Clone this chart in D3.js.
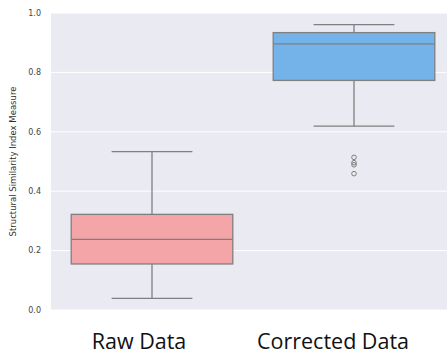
<!DOCTYPE html>
<html lang="en">
<head>
<meta charset="utf-8">
<script src="https://cdn.jsdelivr.net/npm/d3@7"></script>
<style>
  body { margin: 0; background: white; }
  svg { font-family: 'DejaVu Sans'; display: block; }
  .grid line { stroke: white; stroke-width: 1px; }
  .xlab { font-family: 'Open Sans'; }
</style>
</head>
<body>
<svg width="447" height="354"></svg>
<script>
// five-number summaries
var groups = ["Raw Data", "Corrected Data"];
var whiskerLow = [0.039, 0.619];
var q1 = [0.155, 0.773];
var median = [0.238, 0.896];
var q3 = [0.322, 0.934];
var whiskerHigh = [0.533, 0.961];
var outliers = [[], [0.514, 0.496, 0.489, 0.459]];
var fills = ["#f3a5a8", "#74b2ea"];
var yTicks = [0.0, 0.2, 0.4, 0.6, 0.8, 1.0];

var svg = d3.select("svg");
var margin = {left: 51, top: 13, right: -8, bottom: 44};
var width = +svg.attr("width") - margin.left - margin.right,
    height = +svg.attr("height") - margin.top - margin.bottom;

var g = svg.append("g").attr("transform", "translate(" + margin.left + "," + margin.top + ")");

var x = d3.scaleBand().domain(groups).range([0, width]).paddingInner(0).paddingOuter(0);
var y = d3.scaleLinear().domain([0, 1]).range([height, 0]);

g.append("rect")
  .attr("width", width).attr("height", height)
  .attr("fill", "#eaeaf2");

g.append("g").attr("class", "grid")
  .selectAll("line").data(yTicks).enter().append("line")
  .attr("x1", 0).attr("x2", width)
  .attr("y1", d => y(d)).attr("y2", d => y(d));

// y axis labels
g.append("g").selectAll("text").data(yTicks).enter().append("text")
  .attr("x", -10).attr("y", d => y(d))
  .attr("dy", "0.35em")
  .attr("text-anchor", "end")
  .attr("font-size", "8px")
  .attr("fill", "#444")
  .text(d => d3.format(".1f")(d));

svg.append("text")
  .attr("transform", "translate(16," + (margin.top + height / 2) + ") rotate(-90)")
  .attr("text-anchor", "middle")
  .attr("font-size", "8.5px")
  .attr("fill", "#333")
  .text("Structural Similarity Index Measure");

// x labels sit a bit left of the box centres in the original
var labelShift = [-13, -21];
g.append("g").selectAll("text").data(groups).enter().append("text")
  .attr("class", "xlab")
  .attr("x", (d, i) => x(d) + x.bandwidth() / 2 + labelShift[i])
  .attr("y", height + 39)
  .attr("text-anchor", "middle")
  .attr("font-size", "21.5px")
  .attr("fill", "#111")
  .text(d => d);

var stroke = "#7f7f7f";
var boxW = x.bandwidth() * 0.8, capW = boxW / 2;

groups.forEach(function (name, i) {
  var cx = x(name) + x.bandwidth() / 2;
  var b = g.append("g");
  b.append("line")
    .attr("x1", cx).attr("x2", cx)
    .attr("y1", y(whiskerLow[i])).attr("y2", y(q1[i]))
    .attr("stroke", stroke).attr("stroke-width", 1.3);
  b.append("line")
    .attr("x1", cx).attr("x2", cx)
    .attr("y1", y(q3[i])).attr("y2", y(whiskerHigh[i]))
    .attr("stroke", stroke).attr("stroke-width", 1.3);
  [whiskerLow[i], whiskerHigh[i]].forEach(function (v) {
    b.append("line")
      .attr("x1", cx - capW / 2).attr("x2", cx + capW / 2)
      .attr("y1", y(v)).attr("y2", y(v))
      .attr("stroke", stroke).attr("stroke-width", 1.3);
  });
  b.append("rect")
    .attr("x", cx - boxW / 2).attr("width", boxW)
    .attr("y", y(q3[i])).attr("height", y(q1[i]) - y(q3[i]))
    .attr("fill", fills[i])
    .attr("stroke", stroke).attr("stroke-width", 1.3);
  b.append("line")
    .attr("x1", cx - boxW / 2).attr("x2", cx + boxW / 2)
    .attr("y1", y(median[i])).attr("y2", y(median[i]))
    .attr("stroke", stroke).attr("stroke-width", 1.3);
  b.selectAll("circle").data(outliers[i]).enter().append("circle")
    .attr("cx", cx).attr("cy", d => y(d)).attr("r", 2.3)
    .attr("fill", "none").attr("stroke", stroke).attr("stroke-width", 1);
});
</script>
</body>
</html>
